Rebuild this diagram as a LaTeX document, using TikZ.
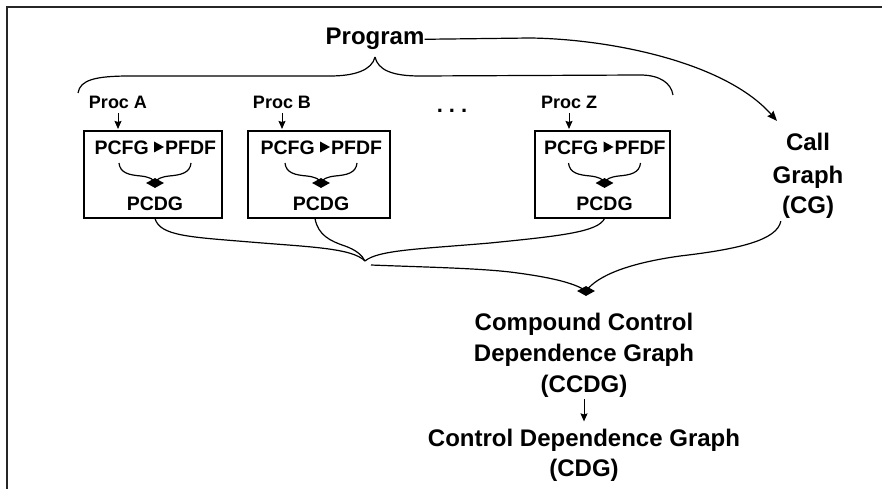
\documentclass[tikz,border=0pt]{standalone}
\usepackage{fontspec}
\setmainfont{Liberation Sans}
\usetikzlibrary{arrows.meta,shapes.geometric}

% one procedure: box with PCFG -> PFDF merged into PCDG
% #1 name, #2 left edge of box, #3 box width, #4 label above
\newcommand\procunit[4]{%
  \pgfmathsetmacro\cx{#2+#3/2}
  \node[procbox, minimum width=#3pt, minimum height=87pt] (box#1) at (\cx,174.5) {};
  \node[sml] (proc#1) at ({#2+34},109) {#4};
  \draw[tip, shorten <=4pt, shorten >=1.5pt] (proc#1.south) -- (proc#1.south |- box#1.north);
  \node[mid, anchor=base east] (pcfg#1) at ({\cx-4},154) {PCFG};
  \node[mid, anchor=base west] (pfdf#1) at ({\cx+12},154) {PFDF};
  \fill ([shift={(-11,-12.5)}]pfdf#1.base west) -- ([shift={(-1,-7)}]pfdf#1.base west)
        -- ([shift={(-11,-1.5)}]pfdf#1.base west) -- cycle;
  \node[joint] (j#1) at ({\cx+2},183) {};
  \coordinate (bl#1) at ({\cx-34},163);
  \coordinate (br#1) at ({\cx+38},163);
  \draw[wire] (bl#1) .. controls ({\cx-33},173) and ({\cx-24},175) .. ({\cx-12},176)
              .. controls ({\cx-4},177) and ({\cx+1},179) .. (j#1.center);
  \draw[wire] (br#1) .. controls ({\cx+37},173) and ({\cx+28},175) .. ({\cx+16},176)
              .. controls ({\cx+8},177) and ({\cx+3},179) .. (j#1.center);
  \node[mid] (pcdg#1) at ({\cx+2},210) {PCDG};
}

\begin{document}
\begin{tikzpicture}[x=1pt,y=-1pt,
  lbl/.style={font=\bfseries\fontsize{24}{24}\selectfont, inner sep=0pt, anchor=base},
  sml/.style={font=\bfseries\fontsize{18}{18}\selectfont, inner sep=0pt, anchor=base},
  mid/.style={font=\bfseries\fontsize{19.5}{19.5}\selectfont, inner sep=0pt, anchor=base},
  wire/.style={line width=1.2pt},
  procbox/.style={draw, line width=1.1pt, inner sep=0pt},
  tip/.style={-{Stealth[length=8pt,width=7pt,inset=1pt]}, line width=1pt},
  joint/.style={diamond, fill, inner sep=0pt, minimum width=18pt, minimum height=10pt},
]
\useasboundingbox (0,0) rectangle (882,489);

% frame
\draw[line width=1.3pt, black!85] (882,7) -- (7,7) -- (7,489);

% program and its brace over the procedures
\node[lbl] (prog) at (375,45) {Program};
\coordinate (brL) at (78,93);
\coordinate (brR) at (673,95);
\coordinate (brT) at (375,57);
\draw[wire] (brL) .. controls (80,80) and (95,76) .. (130,76) -- (330,76)
            .. controls (355,76) and (372,70) .. (brT);
\draw[wire] (brT) .. controls (378,70) and (392,76) .. (420,76) -- (640,75)
            .. controls (660,75) and (671,83) .. (brR);

% procedures
\procunit{A}{84}{138}{Proc A}
\procunit{B}{248}{142}{Proc B}
\procunit{Z}{535}{135}{Proc Z}
\node[lbl, font=\bfseries\fontsize{22}{22}\selectfont] (dots) at (452,113) {.\kern6pt.\kern6pt.};

% call graph
\node[lbl] (call) at (808,151) {Call};
\node[lbl] (graph) at (808,183) {Graph};
\node[lbl] (cg) at (808,213) {(CG)};
\coordinate (cgIn) at (777,121);
\draw[wire, -{Stealth[length=10pt,width=8pt,inset=1pt]}]
  (prog.east) -- (530,38) .. controls (610,39) and (725,62) .. (cgIn);

% merge of the procedure graphs
\coordinate (t1) at (365,261);
\draw[wire] (boxA.south -| pcdgA) .. controls (160,236) and (190,237) .. (250,242)
            .. controls (310,247) and (352,248) .. (t1);
\draw[wire] ([xshift=-4pt]boxB.south) .. controls (318,235) and (330,241) .. (345,246)
            .. controls (356,250) and (362,255) .. (t1);
\draw[wire] (boxZ.south -| pcdgZ) .. controls (598,232) and (560,236) .. (490,243)
            .. controls (420,249) and (378,250) .. (t1);

% compound graph
\node[joint] (j2) at (586,291) {};
\coordinate (t1b) at (371,265);
\draw[wire] (t1b) .. controls (420,267) and (475,268) .. (510,272)
            .. controls (550,277) and (575,283) .. (j2.center);
\draw[wire] ([shift={(-1,3)}]cg.south west) .. controls (777,240) and (740,249) .. (680,256)
            .. controls (630,263) and (598,275) .. (j2.center);

\node[lbl] (cc1) at (584,330) {Compound Control};
\node[lbl] (cc2) at (584,361) {Dependence Graph};
\node[lbl] (cc3) at (584,392) {(CCDG)};
\node[lbl] (cdg1) at (584,446) {Control Dependence Graph};
\node[lbl] (cdg2) at (584,476) {(CDG)};
\draw[tip, shorten <=2pt, shorten >=7pt] (cc3.south) -- (cdg1.north);
\end{tikzpicture}
\end{document}
